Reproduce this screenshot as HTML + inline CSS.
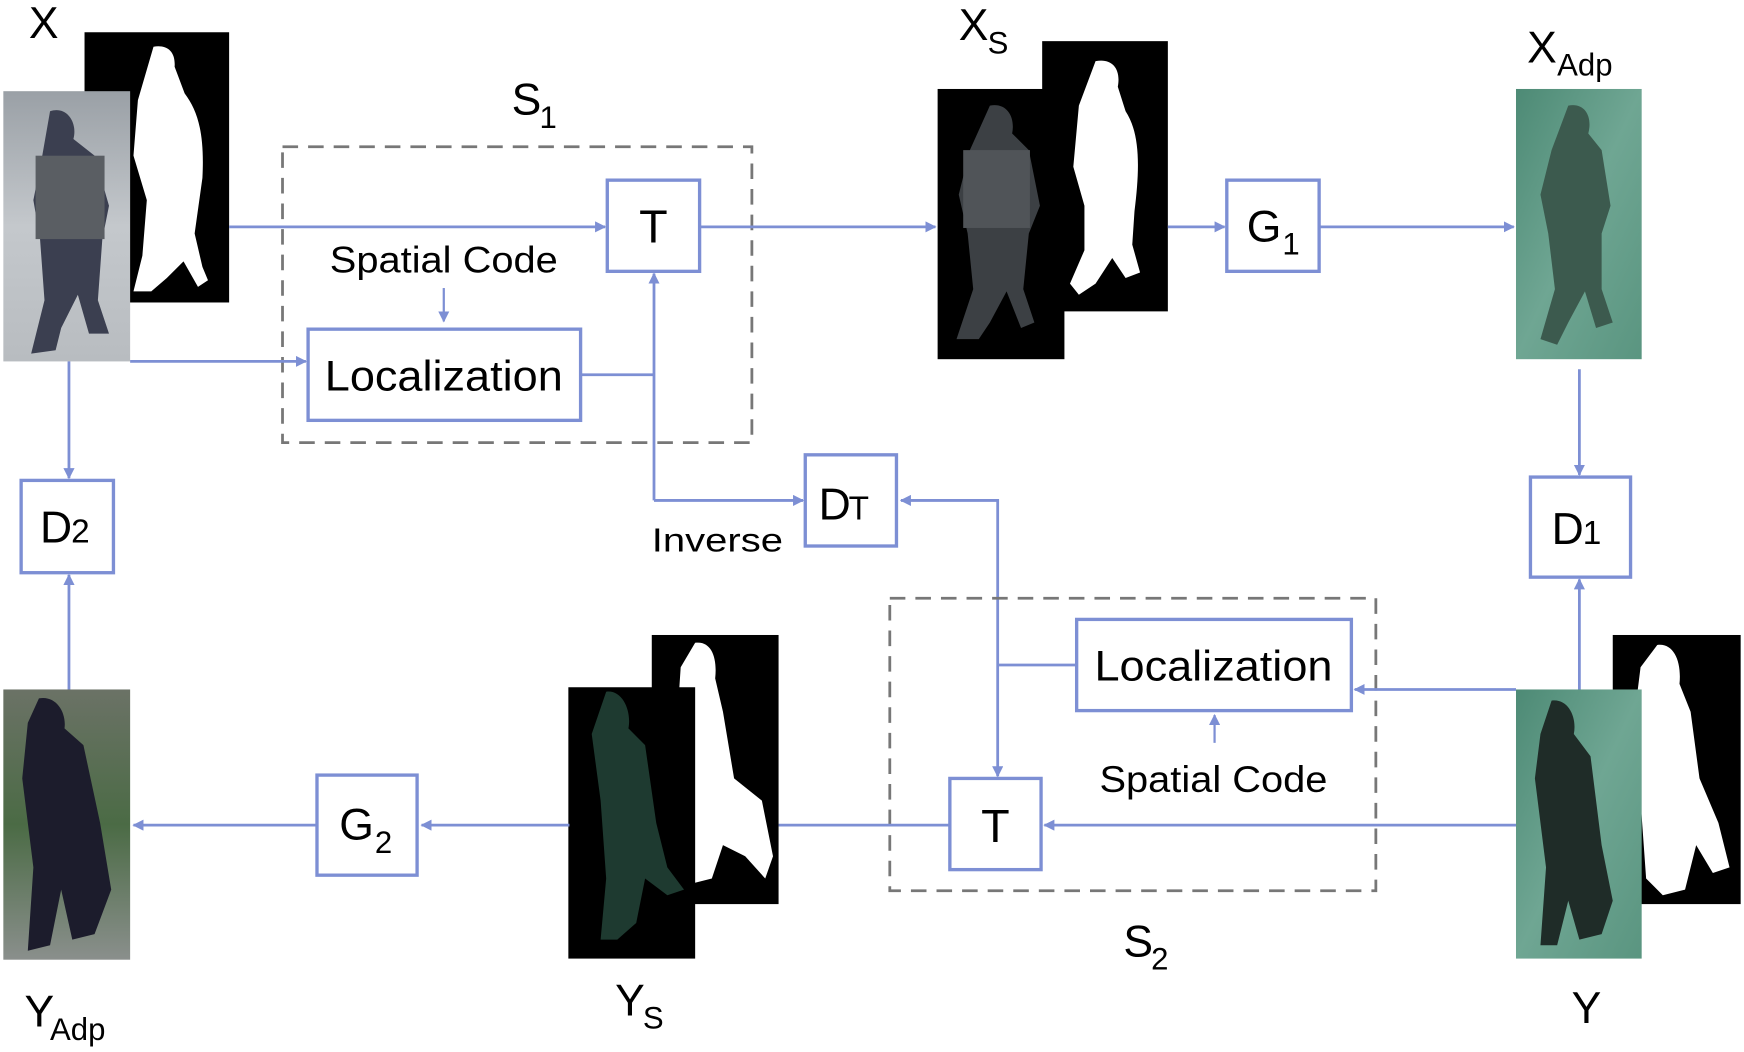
<!DOCTYPE html>
<html><head><meta charset="utf-8"><style>
html,body{margin:0;padding:0;background:#fff;}
svg{display:block;}
text{font-family:"Liberation Sans",sans-serif;fill:#000;}
</style></head><body>
<svg width="1744" height="1052" viewBox="0 0 1568 946" preserveAspectRatio="none" xmlns="http://www.w3.org/2000/svg">
<defs>
<marker id="a" markerWidth="10" markerHeight="10" refX="9" refY="5" orient="auto" markerUnits="userSpaceOnUse"><path d="M0,0 L10,5 L0,10 Z" fill="#7d8fd4"/></marker>
<linearGradient id="gx" x1="0" y1="0" x2="0" y2="1"><stop offset="0" stop-color="#9aa0a6"/><stop offset="0.5" stop-color="#c4c8cc"/><stop offset="1" stop-color="#b8bcc0"/></linearGradient>
<linearGradient id="gg" x1="0" y1="0" x2="1" y2="1"><stop offset="0" stop-color="#4d8a75"/><stop offset="0.5" stop-color="#6fa693"/><stop offset="1" stop-color="#5a9580"/></linearGradient>
<linearGradient id="gy" x1="0" y1="0" x2="0" y2="1"><stop offset="0" stop-color="#6b7266"/><stop offset="0.5" stop-color="#4b6b45"/><stop offset="1" stop-color="#8a8f8c"/></linearGradient>
</defs>

<!-- X -->
<text x="26" y="34" font-size="40">X</text>
<rect x="76" y="29" width="130" height="243" fill="#000"/>
<path d="M138,42 C150,40 158,46 157,60 L166,84 C178,100 184,120 182,160 L175,210 L182,240 L187,252 L178,258 L165,235 L150,250 L136,262 L120,262 L128,230 L132,180 L120,140 L124,90 Z" fill="#fff"/>
<rect x="3" y="82" width="114" height="243" fill="url(#gx)"/>
<path d="M45,100 C60,95 70,110 66,125 L85,140 L98,185 L92,215 L88,270 L98,300 L80,300 L70,265 L55,295 L50,315 L28,318 L40,270 L36,215 L30,180 L38,140 Z" fill="#3b3f50"/>
<rect x="32" y="140" width="62" height="75" fill="#5a5e63"/>

<!-- S1 -->
<rect x="254" y="132" width="422" height="266" fill="none" stroke="#777" stroke-width="2.5" stroke-dasharray="14,9"/>
<text x="460" y="103" font-size="40">S</text><text x="485" y="115" font-size="28">1</text>

<line x1="206" y1="204" x2="544" y2="204" stroke="#7d8fd4" stroke-width="2.5" marker-end="url(#a)"/>
<rect x="546" y="162" width="83" height="82" fill="#fff" stroke="#7d8fd4" stroke-width="3"/>
<text x="587.5" y="218" font-size="42" text-anchor="middle">T</text>
<line x1="629" y1="204" x2="841" y2="204" stroke="#7d8fd4" stroke-width="2.5" marker-end="url(#a)"/>

<text x="399" y="245" font-size="33" text-anchor="middle" textLength="205" lengthAdjust="spacingAndGlyphs">Spatial Code</text>
<line x1="399" y1="259" x2="399" y2="289" stroke="#7d8fd4" stroke-width="2" marker-end="url(#a)"/>
<rect x="277" y="296" width="245" height="82" fill="#fff" stroke="#7d8fd4" stroke-width="3"/>
<text x="399" y="351" font-size="38" text-anchor="middle" textLength="214" lengthAdjust="spacingAndGlyphs">Localization</text>
<line x1="117" y1="325" x2="275" y2="325" stroke="#7d8fd4" stroke-width="2.5" marker-end="url(#a)"/>
<polyline points="522,337 588,337" fill="none" stroke="#7d8fd4" stroke-width="2.5"/>
<line x1="588" y1="450" x2="588" y2="246" stroke="#7d8fd4" stroke-width="2.5" marker-end="url(#a)"/>
<line x1="588" y1="450" x2="722" y2="450" stroke="#7d8fd4" stroke-width="2.5" marker-end="url(#a)"/>

<!-- DT -->
<rect x="724" y="409" width="82" height="82" fill="#fff" stroke="#7d8fd4" stroke-width="3"/>
<text x="736" y="467" font-size="40">D</text><text x="763" y="467" font-size="30">T</text>
<text x="645" y="496" font-size="30" text-anchor="middle" textLength="118" lengthAdjust="spacingAndGlyphs">Inverse</text>
<polyline points="897,598 897,450 810,450" fill="none" stroke="#7d8fd4" stroke-width="2.5" marker-end="url(#a)"/>

<!-- D2 -->
<line x1="62" y1="325" x2="62" y2="430" stroke="#7d8fd4" stroke-width="2.5" marker-end="url(#a)"/>
<rect x="19" y="432" width="83" height="83" fill="#fff" stroke="#7d8fd4" stroke-width="3"/>
<text x="36" y="488" font-size="40">D</text><text x="64" y="488" font-size="30">2</text>
<line x1="62" y1="620" x2="62" y2="517" stroke="#7d8fd4" stroke-width="2.5" marker-end="url(#a)"/>

<!-- XS -->
<text x="862" y="36" font-size="40">X</text><text x="888" y="48" font-size="28">S</text>
<rect x="937" y="37" width="113" height="243" fill="#000"/>
<path d="M985,55 C1000,52 1008,62 1005,78 L1012,100 C1025,120 1025,150 1020,190 L1018,220 L1025,245 L1012,250 L1000,232 L985,255 L970,265 L962,255 L975,225 L975,185 L965,150 L970,95 Z" fill="#fff"/>
<rect x="843" y="80" width="114" height="243" fill="#000"/>
<path d="M890,95 C905,92 913,105 910,120 L925,135 L935,185 L925,210 L920,260 L930,290 L918,295 L905,262 L890,290 L880,305 L860,305 L875,260 L870,210 L862,175 L872,135 Z" fill="#3c4044"/>
<rect x="866" y="135" width="60" height="70" fill="#505458"/>

<line x1="1050" y1="204" x2="1101" y2="204" stroke="#7d8fd4" stroke-width="2.5" marker-end="url(#a)"/>
<rect x="1103" y="162" width="83" height="82" fill="#fff" stroke="#7d8fd4" stroke-width="3"/>
<text x="1121" y="217" font-size="40">G</text><text x="1153" y="229" font-size="28">1</text>
<line x1="1186" y1="204" x2="1361" y2="204" stroke="#7d8fd4" stroke-width="2.5" marker-end="url(#a)"/>

<!-- XAdp -->
<text x="1373" y="56" font-size="40">X</text><text x="1400" y="68" font-size="28">Adp</text>
<rect x="1363" y="80" width="113" height="243" fill="url(#gg)"/>
<path d="M1410,95 C1425,92 1432,105 1428,120 L1440,135 L1448,185 L1440,210 L1440,260 L1450,290 L1435,295 L1425,262 L1410,290 L1400,310 L1385,305 L1398,260 L1392,210 L1385,175 L1395,135 Z" fill="#3c5a4e"/>

<line x1="1420" y1="332" x2="1420" y2="427" stroke="#7d8fd4" stroke-width="2.5" marker-end="url(#a)"/>
<rect x="1376" y="429" width="90" height="90" fill="#fff" stroke="#7d8fd4" stroke-width="3"/>
<text x="1395" y="489" font-size="40">D</text><text x="1423" y="489" font-size="30">1</text>
<line x1="1420" y1="620" x2="1420" y2="521" stroke="#7d8fd4" stroke-width="2.5" marker-end="url(#a)"/>

<!-- S2 -->
<rect x="800" y="538" width="437" height="263" fill="none" stroke="#777" stroke-width="2.5" stroke-dasharray="14,9"/>
<text x="1010" y="860" font-size="40">S</text><text x="1035" y="872" font-size="28">2</text>
<rect x="968" y="557" width="247" height="82" fill="#fff" stroke="#7d8fd4" stroke-width="3"/>
<text x="1091" y="612" font-size="38" text-anchor="middle" textLength="214" lengthAdjust="spacingAndGlyphs">Localization</text>
<line x1="1363" y1="620" x2="1218" y2="620" stroke="#7d8fd4" stroke-width="2.5" marker-end="url(#a)"/>
<line x1="1092" y1="668" x2="1092" y2="643" stroke="#7d8fd4" stroke-width="2" marker-end="url(#a)"/>
<text x="1091" y="712" font-size="33" text-anchor="middle" textLength="205" lengthAdjust="spacingAndGlyphs">Spatial Code</text>
<line x1="968" y1="598" x2="897" y2="598" stroke="#7d8fd4" stroke-width="2.5"/>
<line x1="897" y1="598" x2="897" y2="698" stroke="#7d8fd4" stroke-width="2.5" marker-end="url(#a)"/>
<rect x="854" y="700" width="82" height="82" fill="#fff" stroke="#7d8fd4" stroke-width="3"/>
<text x="895" y="757" font-size="42" text-anchor="middle">T</text>
<line x1="1363" y1="742" x2="939" y2="742" stroke="#7d8fd4" stroke-width="2.5" marker-end="url(#a)"/>
<line x1="854" y1="742" x2="700" y2="742" stroke="#7d8fd4" stroke-width="2.5"/>

<!-- Y -->
<rect x="1450" y="571" width="115" height="242" fill="#000"/>
<path d="M1490,580 C1505,578 1512,595 1510,615 L1520,640 L1528,700 L1545,740 L1555,780 L1540,785 L1525,760 L1515,800 L1495,805 L1480,790 L1475,720 L1470,640 L1475,600 Z" fill="#fff"/>
<rect x="1363" y="620" width="113" height="242" fill="url(#gg)"/>
<path d="M1395,630 C1410,628 1418,645 1415,660 L1430,680 L1440,760 L1450,810 L1440,840 L1420,845 L1410,810 L1400,850 L1385,850 L1390,780 L1380,700 L1385,660 Z" fill="#1f2c28"/>

<!-- YS -->
<text x="553" y="913" font-size="40">Y</text><text x="578" y="925" font-size="28">S</text>
<rect x="586" y="571" width="114" height="242" fill="#000"/>
<path d="M625,578 C640,576 645,592 643,610 L650,640 L660,700 L685,720 L695,770 L688,790 L670,770 L650,760 L640,790 L620,795 L612,740 L608,660 L612,600 Z" fill="#fff"/>
<rect x="511" y="618" width="114" height="244" fill="#000"/>
<path d="M545,622 C560,620 568,640 565,655 L580,670 L590,740 L600,780 L615,800 L600,805 L580,790 L572,830 L555,845 L540,845 L545,790 L540,720 L532,660 Z" fill="#1e3a30"/>

<line x1="512" y1="742" x2="379" y2="742" stroke="#7d8fd4" stroke-width="2.5" marker-end="url(#a)"/>
<rect x="285" y="697" width="90" height="90" fill="#fff" stroke="#7d8fd4" stroke-width="3"/>
<text x="305" y="755" font-size="40">G</text><text x="337" y="767" font-size="28">2</text>
<line x1="285" y1="742" x2="120" y2="742" stroke="#7d8fd4" stroke-width="2.5" marker-end="url(#a)"/>

<!-- YAdp -->
<rect x="3" y="620" width="114" height="243" fill="url(#gy)"/>
<path d="M35,628 C50,625 60,640 58,655 L75,670 L90,740 L100,800 L85,840 L65,845 L55,800 L45,850 L25,855 L30,780 L20,700 L25,650 Z" fill="#1c1c2c"/>
<text x="22" y="923" font-size="40">Y</text><text x="45" y="935" font-size="28">Adp</text>

<text x="1413" y="920" font-size="40">Y</text>
</svg>
</body></html>
